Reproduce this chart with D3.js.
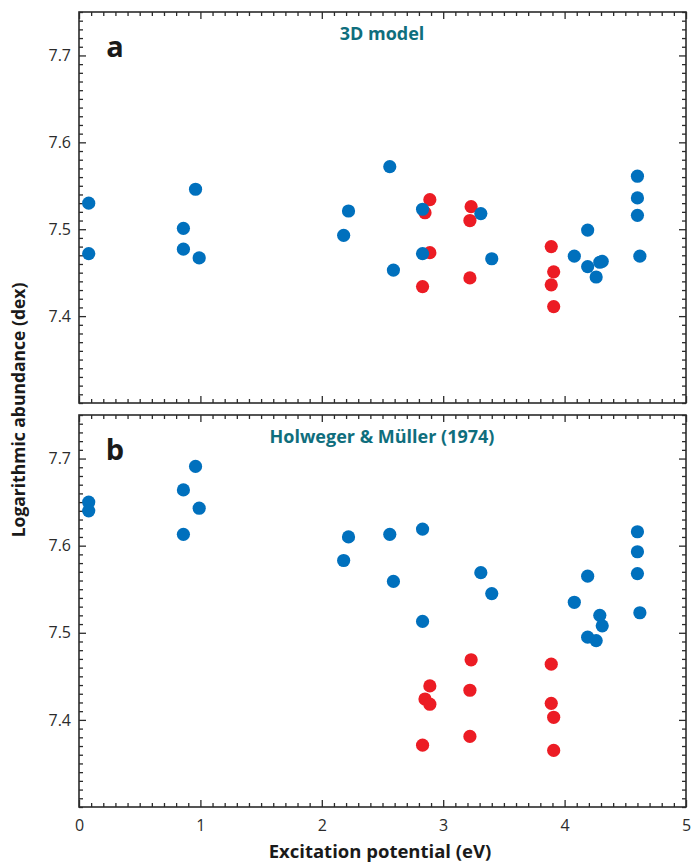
<!DOCTYPE html>
<html>
<head>
<meta charset="utf-8">
<script src="https://cdn.jsdelivr.net/npm/d3@7"></script>
<style>
  html, body { margin: 0; padding: 0; background: #fff; }
  svg text { font-family: "Open Sans", "Noto Sans", sans-serif; }
</style>
</head>
<body>
<svg id="chart" width="692" height="865"></svg>
<script>
// Excitation potential (eV) of each line, shared by both panels
const blueEp = [0.08, 0.08, 0.86, 0.86, 0.96, 0.99, 2.18, 2.22, 2.56, 2.59, 2.83, 2.83,
                3.31, 3.40, 4.08, 4.19, 4.19, 4.26, 4.29, 4.31, 4.60, 4.60, 4.60, 4.62];
const redEp  = [2.89, 2.85, 2.89, 2.83, 3.23, 3.22, 3.22, 3.89, 3.91, 3.89, 3.91];

// Panel a: 3D model abundances (dex)
const blue3D = [7.530, 7.472, 7.501, 7.477, 7.546, 7.467, 7.493, 7.521, 7.572, 7.453, 7.523, 7.472,
                7.518, 7.466, 7.469, 7.499, 7.457, 7.445, 7.462, 7.463, 7.561, 7.536, 7.516, 7.469];
const red3D  = [7.534, 7.519, 7.473, 7.434, 7.526, 7.510, 7.444, 7.480, 7.451, 7.436, 7.411];

// Panel b: Holweger & Müller (1974) abundances (dex)
const blueHM = [7.650, 7.640, 7.664, 7.613, 7.691, 7.643, 7.583, 7.610, 7.613, 7.559, 7.619, 7.513,
                7.569, 7.545, 7.535, 7.565, 7.495, 7.491, 7.520, 7.508, 7.616, 7.593, 7.568, 7.523];
const redHM  = [7.439, 7.424, 7.418, 7.371, 7.469, 7.434, 7.381, 7.464, 7.403, 7.419, 7.365];

const xTicks = [0, 1, 2, 3, 4, 5];
const yTicks = [7.4, 7.5, 7.6, 7.7];

const panels = [
  { letter: "a", title: "3D model", blue: blue3D, red: red3D, top: 12, bottom: 403, xLabels: false },
  { letter: "b", title: "Holweger & Müller (1974)", blue: blueHM, red: redHM, top: 415, bottom: 807, xLabels: true }
];

const svg = d3.select("#chart");
const left = 79, right = 686;
const axisColor = "#2b2b2b";
const blueColor = "#0070bd";
const redColor = "#ec1c24";
const titleColor = "#0f6e7d";

const x = d3.scaleLinear().domain([0, 5]).range([left, right]);
const xMinor = d3.range(0, 51).map(i => i / 10).filter(v => !xTicks.some(t => Math.abs(t - v) < 1e-9));

panels.forEach(p => {
  const y = d3.scaleLinear().domain([7.3, 7.75]).range([p.bottom, p.top]);
  const yMinor = d3.range(730, 776).map(i => i / 100).filter(v => !yTicks.some(t => Math.abs(t - v) < 1e-9));
  const yMajorAll = [7.3, 7.4, 7.5, 7.6, 7.7];
  const g = svg.append("g");

  // plotting frame
  g.append("rect")
    .attr("x", left).attr("y", p.top)
    .attr("width", right - left).attr("height", p.bottom - p.top)
    .attr("fill", "none").attr("stroke", axisColor).attr("stroke-width", 1.6);

  const styleAxis = sel => {
    sel.select(".domain").remove();
    sel.selectAll(".tick line").attr("stroke", axisColor).attr("stroke-width", 1.3);
    sel.selectAll(".tick text").attr("fill", "#2b2b2b").attr("font-size", 16);
  };

  // bottom axis (labels only on the lower panel)
  g.append("g").attr("transform", `translate(0,${p.bottom})`)
    .call(d3.axisBottom(x).tickValues(xTicks).tickSize(-7).tickPadding(13)
      .tickFormat(p.xLabels ? d3.format("d") : () => ""))
    .call(styleAxis);
  g.append("g").attr("transform", `translate(0,${p.bottom})`)
    .call(d3.axisBottom(x).tickValues(xMinor).tickSize(-4).tickFormat(() => ""))
    .call(styleAxis);

  // top axis (mirror ticks)
  g.append("g").attr("transform", `translate(0,${p.top})`)
    .call(d3.axisTop(x).tickValues(xTicks).tickSize(-7).tickFormat(() => ""))
    .call(styleAxis);
  g.append("g").attr("transform", `translate(0,${p.top})`)
    .call(d3.axisTop(x).tickValues(xMinor).tickSize(-4).tickFormat(() => ""))
    .call(styleAxis);

  // left axis
  g.append("g").attr("transform", `translate(${left},0)`)
    .call(d3.axisLeft(y).tickValues(yTicks).tickSize(-7).tickPadding(8).tickFormat(d3.format(".1f")))
    .call(styleAxis);
  g.append("g").attr("transform", `translate(${left},0)`)
    .call(d3.axisLeft(y).tickValues(yMinor).tickSize(-4).tickFormat(() => ""))
    .call(styleAxis);

  // right axis (mirror ticks)
  g.append("g").attr("transform", `translate(${right},0)`)
    .call(d3.axisRight(y).tickValues(yMajorAll.filter(v => v > 7.3)).tickSize(-7).tickFormat(() => ""))
    .call(styleAxis);
  g.append("g").attr("transform", `translate(${right},0)`)
    .call(d3.axisRight(y).tickValues(yMinor).tickSize(-4).tickFormat(() => ""))
    .call(styleAxis);

  // red points first, blue points on top
  g.append("g").selectAll("circle")
    .data(redEp.map((e, i) => [e, p.red[i]]))
    .join("circle")
    .attr("cx", d => x(d[0])).attr("cy", d => y(d[1]))
    .attr("r", 6.6).attr("fill", redColor);

  g.append("g").selectAll("circle")
    .data(blueEp.map((e, i) => [e, p.blue[i]]))
    .join("circle")
    .attr("cx", d => x(d[0])).attr("cy", d => y(d[1]))
    .attr("r", 6.6).attr("fill", blueColor);

  // panel letter
  g.append("text")
    .attr("x", 115).attr("y", p.top + 45)
    .attr("text-anchor", "middle")
    .attr("font-size", 29).attr("font-weight", 700).attr("fill", "#1a1a1a")
    .text(p.letter);

  // panel title
  g.append("text")
    .attr("x", 382).attr("y", p.top + 28)
    .attr("text-anchor", "middle")
    .attr("font-size", 18).attr("font-weight", 700).attr("fill", titleColor)
    .text(p.title);
});

// axis titles
svg.append("text")
  .attr("x", 380).attr("y", 858)
  .attr("text-anchor", "middle")
  .attr("font-size", 18.5).attr("font-weight", 700).attr("fill", "#1a1a1a")
  .text("Excitation potential (eV)");

svg.append("text")
  .attr("transform", "translate(25,410) rotate(-90)")
  .attr("text-anchor", "middle")
  .attr("font-size", 17.5).attr("font-weight", 700).attr("fill", "#1a1a1a")
  .text("Logarithmic abundance (dex)");
</script>
</body>
</html>
